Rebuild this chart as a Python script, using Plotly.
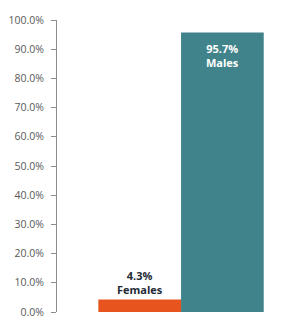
import plotly.graph_objects as go

categories = ["Females", "Males"]
values = [4.3, 95.7]
colors = ["#E8541E", "#41838B"]
text_colors = ["#1F2A36", "#FFFFFF"]
tick_vals = [0, 10, 20, 30, 40, 50, 60, 70, 80, 90, 100]
tick_text = [f"{v:.1f}%" for v in tick_vals]

xs = list(range(len(categories)))
fig = go.Figure()
fig.add_trace(go.Bar(x=xs, y=values, width=1, marker=dict(color=colors, line=dict(width=0)),
                     hoverinfo="skip"))

for i, (c, v) in enumerate(zip(categories, values)):
    inside = v > 50
    fig.add_annotation(x=i, y=v, text=f"<b>{v:.1f}%</b><br><b>{c}</b>", showarrow=False,
                       yanchor="top" if inside else "bottom",
                       yshift=-6 if inside else 0,
                       font=dict(family="Open Sans", size=11, color=text_colors[i]))

fig.update_layout(
    template="none",
    width=283, height=326, margin=dict(l=57, r=11, t=20, b=14, autoexpand=False),
    plot_bgcolor="white", paper_bgcolor="white", showlegend=False,
    xaxis=dict(range=[-1, 1.6], showticklabels=False, showgrid=False, zeroline=False,
               showline=False, ticks="", automargin=False),
    yaxis=dict(range=[0, 100], tickvals=tick_vals, ticktext=tick_text, showgrid=False,
               zeroline=False, showline=True, linecolor="#8C8C8C", linewidth=1,
               ticks="outside", ticklen=5, tickcolor="#8C8C8C", automargin=False,
               ticklabelstandoff=5,
               tickfont=dict(family="Open Sans", size=10.5, color="#595959")),
)
fig.write_html("out.html")
